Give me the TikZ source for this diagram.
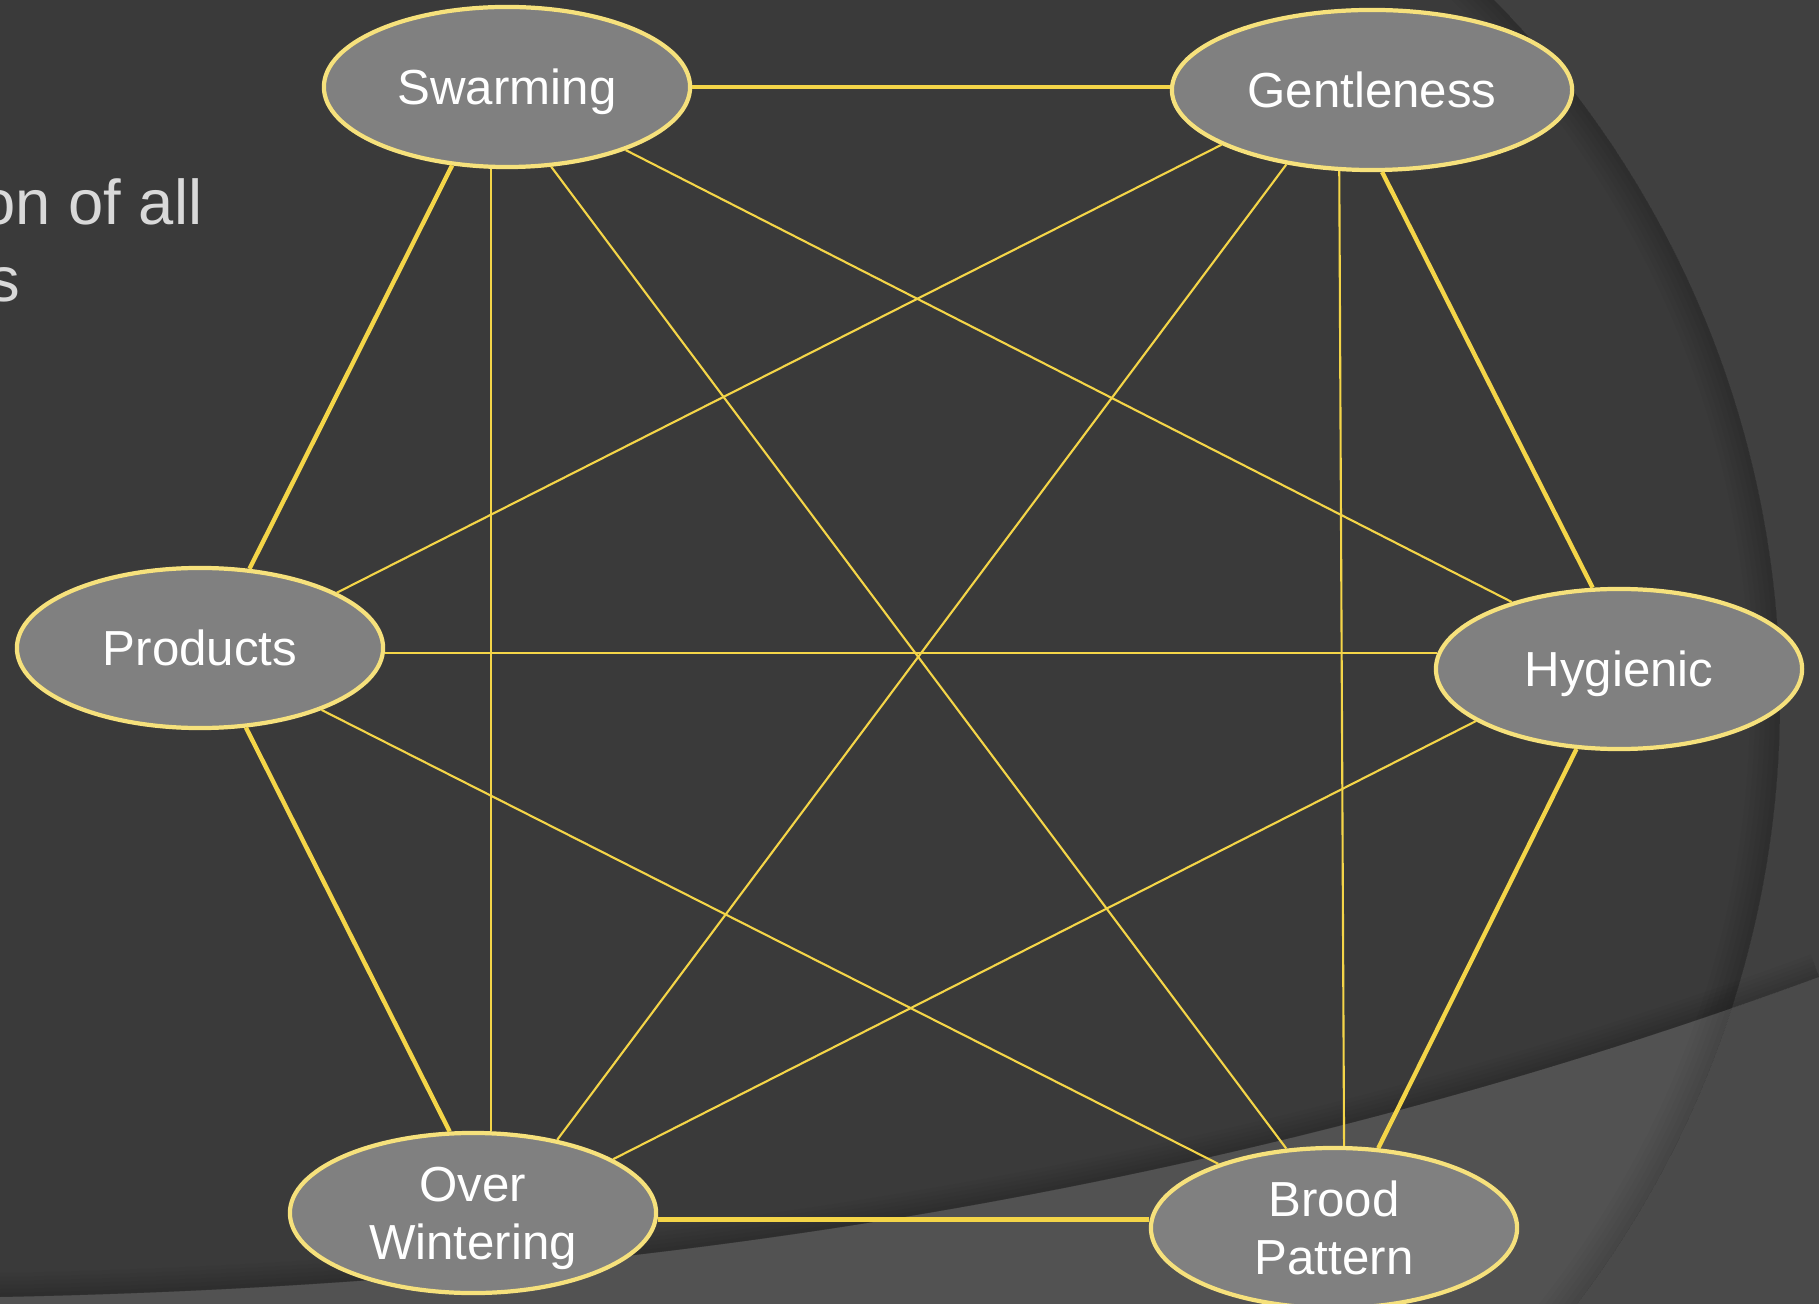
\documentclass[tikz,border=0pt]{standalone}
\usepackage{fontspec}
\setmainfont{Liberation Sans}
\usepackage{xcolor}
\usepackage{tikz}
\usetikzlibrary{shapes.geometric}

\definecolor{slate}{HTML}{3A3A3A}
\definecolor{slateout}{HTML}{404040}
\definecolor{band}{HTML}{525252}
\definecolor{bandout}{HTML}{4A4A4A}
\definecolor{traitfill}{HTML}{808080}
\definecolor{traitrim}{HTML}{F6E17C}
\definecolor{link}{HTML}{F4D548}
\definecolor{titlegray}{HTML}{D9D9D9}

\begin{document}
\begin{tikzpicture}[
  x=0.01cm, y=-0.01cm,
  font=\fontsize{14}{16.5}\selectfont,
  trait/.style={ellipse, draw=traitrim, fill=traitfill, line width=1.2pt,
                text=white, align=center, inner sep=0pt, text depth=0pt,
                minimum width=3.66cm, minimum height=1.6cm},
  rim/.style  ={draw=link, line width=1.25pt},
  chord/.style={draw=link, line width=0.6pt},
  ttl/.style  ={text=titlegray, font=\fontsize{18}{22}\selectfont, inner sep=0pt}
]
% --- Slide background: dark field, big arc on the right, lighter band below ---
\useasboundingbox (0,0) rectangle (1819,1304);
\clip (0,0) rectangle (1819,1304);
\fill[slate] (0,0) rectangle (1819,1304);
\begin{scope}
  \clip (1000,0) rectangle (1819,1304);
  \fill[slateout, even odd rule] (0,0) rectangle (1819,1304) (780,700) circle (1000);
\end{scope}
\fill[band] (0,1297) .. controls (606,1285) and (1213,1200) .. (1819,977) |- (0,1304) -- cycle;
\begin{scope}
  \clip (0,1297) .. controls (606,1285) and (1213,1200) .. (1819,977) |- (0,1304) -- cycle;
  \clip (1000,0) rectangle (1819,1304);
  \fill[bandout, even odd rule] (0,0) rectangle (1819,1304) (780,700) circle (1000);
\end{scope}
% soft shadow just inside the arc
\begin{scope}
  \clip (1000,0) rectangle (1819,1304);
  \clip (780,700) circle (1000);
  \foreach \w in {10,20,...,60}
    \draw[black, opacity=0.025, line width=\w*0.2845pt] (780,700) circle (1000);
\end{scope}
% soft shadow above the band
\begin{scope}
  \clip (0,0) -- (0,1297) .. controls (606,1285) and (1213,1200) .. (1819,977) -- (1819,0) -- cycle;
  \foreach \w in {8,16,...,48}
    \draw[black, opacity=0.025, line width=\w*0.2845pt]
      (0,1297) .. controls (606,1285) and (1213,1200) .. (1819,977);
\end{scope}

% --- Slide title, cut off at the left edge ---
\node[ttl, anchor=base east] (ttlA) at (203,225) {on of all};
\node[ttl, anchor=base east] (ttlB) at (21,302) {s};

% --- Traits ---
\node[trait] (sw) at (507,87) {Swarming};
\node[trait, minimum width=4cm] (ge) at (1372,90) {Gentleness};
\node[trait] (pr) at (200,648) {Products};
\node[trait] (hy) at (1619,669) {Hygienic};
\node[trait] (ow) at (473,1213) {Over\\Wintering};
\node[trait] (bp) at (1334,1228) {Brood\\Pattern};

% --- Outer ring (thick) ---
\draw[rim] (sw.0.6)    -- (sw.0.6 -| ge.west);
\draw[rim] (ge.-83)    -- (hy.108.7);
\draw[rim] (hy.-118.6) -- (bp.61.6);
\draw[rim] (ow.-2.2)   -- (ow.-2.2 -| bp.west);
\draw[rim] (pr.-60.9)  -- (ow.106.9);
\draw[rim] (sw.-125.2) -- (pr.58.1);

% --- Inner chords (thin) ---
\draw[chord] (sw.-101.3) -- (sw.-101.3 |- ow.north);
\draw[chord] (sw.-61.1)  -- (bp.121.9);
\draw[chord] (sw.-28.6)  -- (hy.148.6);
\draw[chord] (ge.200)    -- (pr.22.8);
\draw[chord] (ge.-139.3) -- (ow.41.5);
\draw[chord] (ge.-112)   -- (bp.83.3);
\draw[chord] (hy.175 -| pr.east) -- (hy.175);
\draw[chord] (pr.-27.5)  -- (bp.151.9);
\draw[chord] (hy.200.7)  -- (ow.21.5);

\end{tikzpicture}
\end{document}
